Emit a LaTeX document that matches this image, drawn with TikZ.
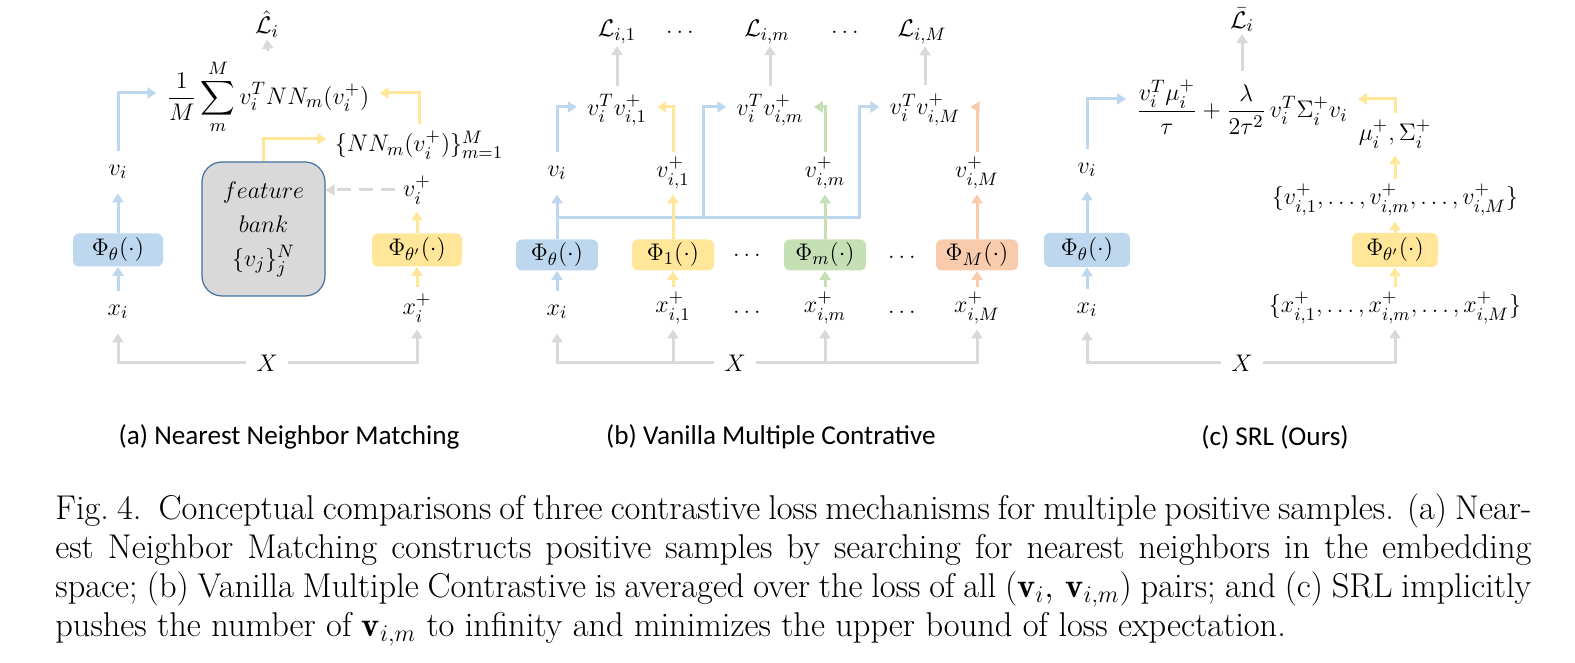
\documentclass[tikz,border=0pt]{standalone}
\usepackage{amsmath}
\usepackage{fontspec}
\usetikzlibrary{arrows.meta}

\newfontfamily\capfont{Carlito}

\definecolor{encblue}{HTML}{BDD7EE}
\definecolor{encyellow}{HTML}{FFE699}
\definecolor{encgreen}{HTML}{C5E0B4}
\definecolor{encorange}{HTML}{F8CBAD}
\definecolor{arrgray}{HTML}{D9D9D9}
\definecolor{bankedge}{HTML}{41719C}

\newcommand{\labfont}{\fontsize{13}{17}\selectfont}

\begin{document}
\begin{tikzpicture}[x=0.5pt, y=-0.5pt,
  lbl/.style={font=\labfont, inner sep=0pt, inner xsep=4pt, minimum height=21pt},
  loss/.style={font=\labfont, inner sep=1pt},
  formula/.style={font=\labfont, inner xsep=5pt, inner ysep=4pt},
  enc/.style={font=\labfont, rounded corners=3pt, minimum width=45pt, minimum height=16.5pt, inner sep=0pt},
  arr/.style={line width=1.5pt, -{Triangle[length=4.5pt,width=5.5pt]}},
  subcap/.style={font=\capfont\fontsize{13.6}{16}\selectfont, inner sep=0pt}]

  \useasboundingbox (0,0) rectangle (1575,663);

  % (a) nearest neighbor matching
  \node[lbl] (a-x) at (118,312) {$x_i$};
  \node[lbl] (a-xp) at (417,308) {$x_i^+$};
  \node[lbl, inner xsep=5pt] (a-X) at (267,363) {$X$};
  \node[enc, fill=encblue] (a-enc) at (118,250) {$\Phi_\theta(\cdot)$};
  \node[enc, fill=encyellow] (a-encp) at (417,250) {$\Phi_{\theta'}(\cdot)$};
  \node[lbl] (a-v) at (118,172) {$v_i$};
  \node[lbl] (a-vp) at (417,190) {$v_i^+$};
  \node[font=\labfont, align=center, fill=arrgray, draw=bankedge, line width=0.6pt,
        rounded corners=10pt, minimum width=61.5pt, minimum height=67pt]
        (a-bank) at (263.5,229) {$feature$\\$bank$\\$\{v_j\}_j^N$};
  \node[lbl] (a-nn) at (419,145) {$\{NN_m(v_i^+)\}_{m=1}^M$};
  \node[formula] (a-sum) at (268,97) {$\displaystyle\frac{1}{M}\sum_{m}^{M} v_i^T NN_m(v_i^+)$};
  \node[loss] (a-L) at (267,24) {$\hat{\mathcal{L}}_i$};

  \draw[arr, arrgray] (a-X.west) -| (a-x.south);
  \draw[arr, arrgray] (a-X.east) -| (a-xp.south);
  \draw[arr, encblue] (a-x.north) -- (a-enc.south);
  \draw[arr, encblue] (a-enc.north) -- (a-v.south);
  \draw[arr, encblue] (a-v.north) |- ([yshift=2pt]a-sum.west);
  \draw[arr, encyellow] (a-xp.north) -- (a-encp.south);
  \draw[arr, encyellow] (a-encp.north) -- (a-vp.south);
  \draw[arr, arrgray, dash pattern=on 7pt off 4pt] (a-vp.west) -- (a-vp.west -| a-bank.east);
  \draw[arr, encyellow] (a-bank.north) |- ([yshift=3pt]a-nn.west);
  \draw[arr, encyellow] (a-nn.north) |- ([yshift=2pt]a-sum.east);
  \draw[arr, arrgray] (a-sum.north) -- (a-L.south);

  % (b) vanilla multiple contrastive
  \node[lbl] (b-x) at (557,312) {$x_i$};
  \node[lbl] (b-x1) at (673,308) {$x_{i,1}^+$};
  \node[lbl] (b-xd1) at (749,312) {$\dots$};
  \node[lbl] (b-xm) at (825,308) {$x_{i,m}^+$};
  \node[lbl] (b-xd2) at (904,312) {$\dots$};
  \node[lbl] (b-xM) at (977,308) {$x_{i,M}^+$};
  \node[lbl, inner xsep=5pt] (b-X) at (735,363) {$X$};

  \node[enc, fill=encblue, minimum width=41pt, minimum height=15.5pt] (b-enc) at (557,255) {$\Phi_\theta(\cdot)$};
  \node[enc, fill=encyellow, minimum width=41pt, minimum height=15.5pt] (b-enc1) at (673,255) {$\Phi_1(\cdot)$};
  \node[lbl] (b-ed1) at (749,255) {$\dots$};
  \node[enc, fill=encgreen, minimum width=41pt, minimum height=15.5pt] (b-encm) at (825,255) {$\Phi_m(\cdot)$};
  \node[lbl] (b-ed2) at (904,257) {$\dots$};
  \node[enc, fill=encorange, minimum width=41pt, minimum height=15.5pt] (b-encM) at (977,255) {$\Phi_M(\cdot)$};

  \node[lbl] (b-v) at (557,173) {$v_i$};
  \node[lbl] (b-v1) at (673,173) {$v_{i,1}^+$};
  \node[lbl] (b-vm) at (825,173) {$v_{i,m}^+$};
  \node[lbl] (b-vM) at (977,173) {$v_{i,M}^+$};

  \node[formula] (b-s1) at (617,110) {$v_i^T v_{i,1}^+$};
  \node[formula] (b-sm) at (770,110) {$v_i^T v_{i,m}^+$};
  \node[formula] (b-sM) at (925,110) {$v_i^T v_{i,M}^+$};

  \node[loss] (b-L1) at (617,32) {$\mathcal{L}_{i,1}$};
  \node[loss] (b-ld1) at (682,32) {$\dots$};
  \node[loss] (b-Lm) at (767,32) {$\mathcal{L}_{i,m}$};
  \node[loss] (b-ld2) at (847,32) {$\dots$};
  \node[loss] (b-LM) at (922,32) {$\mathcal{L}_{i,M}$};

  \coordinate (b-bus) at (557,218);
  \coordinate (b-k2) at (703,218);
  \coordinate (b-k3) at (859,218);

  \draw[arr, arrgray] (b-X.west) -| (b-x.south);
  \draw[arr, arrgray] (b-x1.south |- b-X) -- (b-x1.south);
  \draw[arr, arrgray] (b-X.east) -| (b-xM.south);
  \draw[arr, arrgray] (b-xm.south |- b-X) -- (b-xm.south);

  \draw[line width=1.5pt, encblue] (b-bus) -- (b-k2);
  \draw[arr, encblue] (b-k2) -- (b-k3) |- ([yshift=1.5pt]b-sM.west);
  \draw[arr, encblue] (b-k2) |- ([yshift=1.5pt]b-sm.west);

  \draw[arr, encblue] (b-x.north) -- (b-enc.south);
  \draw[arr, encblue] (b-enc.north) -- (b-v.south);
  \draw[arr, encblue] (b-v.north) |- ([yshift=1.5pt]b-s1.west);
  \draw[arr, encyellow] (b-x1.north) -- (b-enc1.south);
  \draw[arr, encyellow] (b-enc1.north) -- (b-v1.south);
  \draw[arr, encyellow] (b-v1.north) |- ([yshift=1.5pt]b-s1.east);
  \draw[arr, encgreen] (b-xm.north) -- (b-encm.south);
  \draw[arr, encgreen] (b-encm.north) -- (b-vm.south);
  \draw[arr, encgreen] (b-vm.north) |- ([yshift=1.5pt]b-sm.east);
  \draw[arr, encorange] (b-xM.north) -- (b-encM.south);
  \draw[arr, encorange] (b-encM.north) -- (b-vM.south);
  \draw[arr, encorange] (b-vM.north) |- ([yshift=1.5pt]b-sM.east);

  \draw[arr, arrgray] (b-s1.north) -- (b-L1.south);
  \draw[arr, arrgray] (b-sm.north) -- (b-sm.north |- b-Lm.south);
  \draw[arr, arrgray] (b-sM.north) -- (b-sM.north |- b-LM.south);

  % (c) SRL
  \node[lbl] (c-x) at (1087,310) {$x_i$};
  \node[lbl] (c-xs) at (1395,308) {$\{x_{i,1}^+,\dots,x_{i,m}^+,\dots,x_{i,M}^+\}$};
  \node[lbl, inner xsep=5pt] (c-X) at (1242,363) {$X$};
  \node[enc, fill=encblue, minimum width=43pt, minimum height=17pt] (c-enc) at (1087,250) {$\Phi_\theta(\cdot)$};
  \node[enc, fill=encyellow, minimum width=43pt, minimum height=17pt] (c-encp) at (1395,250) {$\Phi_{\theta'}(\cdot)$};
  \node[lbl] (c-v) at (1087,170) {$v_i$};
  \node[lbl] (c-vs) at (1395,200) {$\{v_{i,1}^+,\dots,v_{i,m}^+,\dots,v_{i,M}^+\}$};
  \node[lbl] (c-ms) at (1395,134) {$\mu_i^+,\Sigma_i^+$};
  \node[formula] (c-f) at (1242,107) {$\dfrac{v_i^T\mu_i^+}{\tau}+\dfrac{\lambda}{2\tau^2}\,v_i^T\Sigma_i^+v_i$};
  \node[loss] (c-L) at (1242,20) {$\bar{\mathcal{L}}_i$};

  \draw[arr, arrgray] (c-X.west) -| (c-x.south);
  \draw[arr, arrgray] (c-X.east) -| (c-xs.south);
  \draw[arr, encblue] (c-x.north) -- (c-enc.south);
  \draw[arr, encblue] (c-enc.north) -- (c-v.south);
  \draw[arr, encblue] (c-v.north) |- ([yshift=4pt]c-f.west);
  \draw[arr, encyellow] (c-xs.north) -- (c-encp.south);
  \draw[arr, encyellow] (c-encp.north) -- (c-vs.south);
  \draw[arr, encyellow] (c-vs.north) -- (c-ms.south);
  \draw[arr, encyellow] (c-ms.north) |- ([yshift=4pt]c-f.east);
  \draw[arr, arrgray] (c-f.north) -- (c-L.south);

  % sub-captions
  \node[subcap] (cap-a) at (289,437) {(a) Nearest Neighbor Matching};
  \node[subcap] (cap-b) at (771,437) {(b) Vanilla Multiple Contrative};
  \node[subcap] (cap-c) at (1275,437) {(c) SRL (Ours)};

  % figure caption
  \node[anchor=north west, inner sep=0pt, align=left, font=\fontsize{17.2}{19.6}\selectfont] (caption) at (55,493)
    {\makebox[738pt][s]{Fig.~4.\enskip Conceptual comparisons of three contrastive loss mechanisms for multiple positive samples. (a) Near-}\\
     \makebox[738pt][s]{est Neighbor Matching constructs positive samples by searching for nearest neighbors in the embedding}\\
     \makebox[738pt][s]{space; (b) Vanilla Multiple Contrastive is averaged over the loss of all $(\mathbf{v}_i,\,\mathbf{v}_{i,m})$ pairs; and (c) SRL implicitly}\\
     pushes the number of $\mathbf{v}_{i,m}$ to infinity and minimizes the upper bound of loss expectation.};

\end{tikzpicture}
\end{document}
